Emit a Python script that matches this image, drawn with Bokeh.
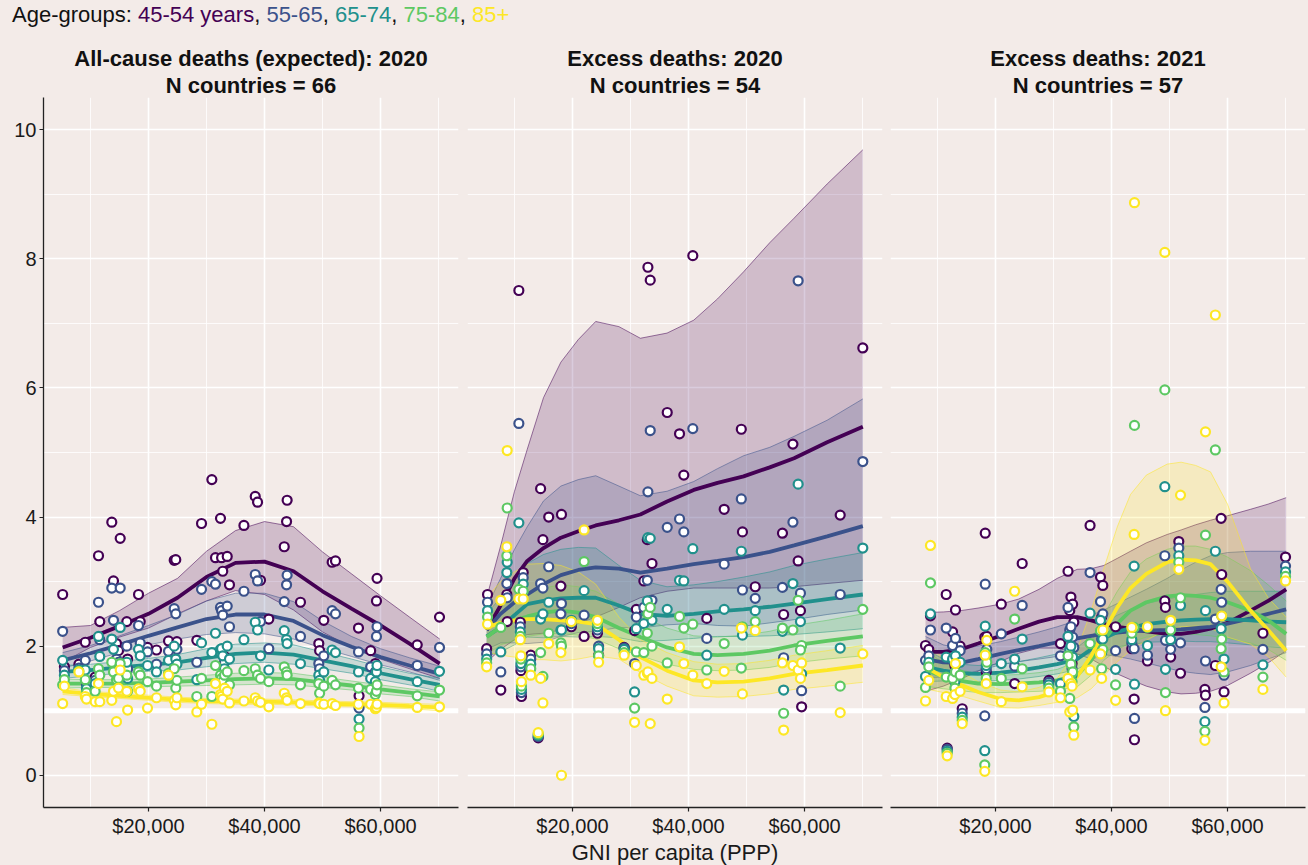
from bokeh.plotting import figure
from bokeh.models import Range1d, FixedTicker, NumeralTickFormatter, Span, Title, Div
from bokeh.layouts import row, column
from bokeh.embed import file_html
from bokeh.resources import INLINE

BG = "#F3EBE8"
FONT = "Liberation Sans"
COLORS = ["#440154", "#3B528B", "#21908C", "#5DC863", "#FDE725"]
AGE_LABELS = ["45-54 years", "55-65", "65-74", "75-84", "85+"]
X_TICKS = [20000, 40000, 60000]
X_MINOR = [10000, 30000, 50000, 70000]
Y_TICKS = [0, 2, 4, 6, 8, 10]
Y_MINOR = [1, 3, 5, 7, 9]

P_TITLES = ["All-cause deaths (expected): 2020", "Excess deaths: 2020", "Excess deaths: 2021"]
P_SUBS = ["N countries = 66", "N countries = 54", "N countries = 57"]

# ---------------- Panel 1: all-cause deaths (expected) 2020 ----------------
p1_gni = [5200, 5500, 8000, 9100, 9300, 10800, 11380, 11600, 13670, 13960, 14480, 14830, 15120, 16260, 16400,
          18280, 18570, 19830, 21380, 23450, 24430, 24700, 24900, 28330, 29140, 30920, 31550, 32410, 32600, 32800,
          33100, 33570, 33960, 36450, 38400, 38800, 39310, 40740, 43400, 43800, 43900, 46200, 49360, 49500, 50220,
          51660, 52240, 56200, 56300, 58300, 59100, 59300, 59400, 66330, 70170]
p1_a45 = [2.80, 1.68, 1.72, 2.06, 1.46, 1.52, 3.40, 2.38, 3.92, 3.01, 2.04, 1.93, 3.67, 2.38, 1.80, 2.80, 2.38, 1.98,
          1.94, 2.08, 3.33, 3.34, 2.07, 2.09, 3.90, 4.58, 3.37, 3.98, 3.37, 3.16, 1.84, 3.39, 2.95, 3.87, 4.32, 4.23,
          3.02, 2.42, 3.54, 3.93, 4.26, 2.68, 2.04, 1.93, 2.40, 3.30, 3.32, 2.28, 1.23, 1.93, 1.73, 2.70, 3.05, 2.02, 2.45]
p1_a55 = [2.23, 1.62, 1.66, 1.78, 1.40, 1.47, 2.68, 2.10, 2.90, 2.40, 1.80, 1.75, 2.90, 2.00, 1.65, 2.32, 2.05, 1.91,
          1.72, 1.92, 2.58, 2.50, 1.95, 1.75, 2.88, 3.00, 2.96, 2.60, 2.55, 2.48, 1.75, 2.62, 2.30, 2.85, 3.11, 3.01,
          2.38, 1.96, 2.69, 2.95, 3.10, 2.15, 1.73, 1.65, 1.85, 2.55, 2.50, 1.91, 1.04, 1.68, 1.60, 2.15, 2.30, 1.70, 1.98]
p1_a65 = [1.78, 1.55, 1.63, 1.63, 1.34, 1.42, 2.15, 1.84, 2.11, 1.95, 1.62, 1.60, 2.29, 1.75, 1.50, 1.95, 1.85, 1.70,
          1.60, 1.78, 2.00, 1.80, 1.72, 1.48, 2.05, 1.90, 2.20, 1.95, 1.96, 1.85, 1.65, 2.00, 1.80, 2.10, 2.37, 2.25,
          1.85, 1.63, 2.24, 2.10, 2.04, 1.73, 1.55, 1.47, 1.60, 1.94, 1.90, 1.60, 0.87, 1.50, 1.45, 1.60, 1.70, 1.45, 1.61]
p1_a75 = [1.40, 1.48, 1.61, 1.48, 1.28, 1.30, 1.65, 1.55, 1.75, 1.60, 1.48, 1.50, 1.73, 1.55, 1.30, 1.60, 1.55, 1.45,
          1.38, 1.58, 1.65, 1.35, 1.47, 1.22, 1.50, 1.22, 1.70, 1.55, 1.50, 1.45, 1.55, 1.60, 1.40, 1.62, 1.65, 1.55,
          1.50, 1.45, 1.68, 1.60, 1.55, 1.40, 1.42, 1.27, 1.38, 1.47, 1.40, 1.35, 0.73, 1.33, 1.25, 1.30, 1.40, 1.23, 1.32]
p1_a85 = [1.11, 1.38, 1.60, 1.22, 1.18, 1.14, 1.42, 1.14, 1.16, 1.30, 0.83, 1.35, 1.63, 1.30, 1.01, 1.34, 1.30, 1.04,
          1.20, 1.55, 1.16, 1.09, 1.20, 0.98, 1.10, 0.79, 1.42, 1.25, 1.22, 1.18, 1.35, 1.30, 1.12, 1.15, 1.20, 1.15,
          1.13, 1.06, 1.27, 1.20, 1.16, 1.11, 1.12, 1.11, 1.10, 1.11, 1.08, 1.10, 0.60, 1.10, 1.03, 1.05, 1.10, 1.05, 1.06]

p1_sx = [5200, 10000, 15000, 20000, 25000, 30000, 35000, 40000, 45000, 50000, 55000, 60000, 65000, 70200]
p1_f45 = [1.98, 2.13, 2.31, 2.50, 2.75, 3.07, 3.29, 3.31, 3.16, 2.85, 2.58, 2.32, 2.04, 1.73]
p1_h45 = [2.29, 2.32, 2.55, 2.82, 3.05, 3.47, 3.79, 3.93, 3.85, 3.46, 3.12, 2.78, 2.45, 2.11]
p1_l45 = [1.75, 1.98, 2.14, 2.28, 2.50, 2.70, 2.86, 2.80, 2.56, 2.22, 1.98, 1.80, 1.65, 1.50]
p1_f55 = [1.78, 1.89, 2.02, 2.16, 2.29, 2.42, 2.49, 2.49, 2.39, 2.17, 1.99, 1.83, 1.70, 1.57]
p1_h55 = [1.90, 2.01, 2.16, 2.32, 2.49, 2.70, 2.82, 2.82, 2.69, 2.39, 2.15, 1.96, 1.82, 1.69]
p1_l55 = [1.66, 1.77, 1.90, 2.02, 2.11, 2.18, 2.21, 2.19, 2.11, 1.97, 1.84, 1.71, 1.60, 1.47]
p1_f65 = [1.60, 1.63, 1.67, 1.71, 1.75, 1.82, 1.88, 1.90, 1.87, 1.78, 1.69, 1.58, 1.49, 1.40]
p1_h65 = [1.70, 1.72, 1.76, 1.81, 1.87, 1.96, 2.03, 2.05, 2.02, 1.91, 1.80, 1.68, 1.58, 1.50]
p1_l65 = [1.50, 1.54, 1.58, 1.61, 1.63, 1.68, 1.73, 1.75, 1.72, 1.65, 1.58, 1.48, 1.40, 1.30]
p1_f75 = [1.42, 1.42, 1.42, 1.43, 1.45, 1.47, 1.49, 1.50, 1.49, 1.44, 1.39, 1.33, 1.28, 1.22]
p1_h75 = [1.49, 1.48, 1.48, 1.49, 1.52, 1.55, 1.58, 1.59, 1.58, 1.52, 1.46, 1.40, 1.34, 1.29]
p1_l75 = [1.35, 1.36, 1.36, 1.37, 1.38, 1.39, 1.40, 1.41, 1.40, 1.36, 1.32, 1.26, 1.22, 1.15]
p1_f85 = [1.30, 1.26, 1.23, 1.20, 1.17, 1.15, 1.14, 1.14, 1.13, 1.11, 1.10, 1.09, 1.07, 1.05]
p1_h85 = [1.35, 1.30, 1.27, 1.24, 1.21, 1.19, 1.18, 1.18, 1.17, 1.15, 1.14, 1.13, 1.11, 1.10]
p1_l85 = [1.25, 1.22, 1.19, 1.16, 1.13, 1.11, 1.10, 1.10, 1.09, 1.07, 1.06, 1.05, 1.03, 1.00]

# ---------------- Panel 2: excess deaths 2020 ----------------
p2_gni = [5200, 5350, 7640, 8680, 8740, 10750, 11000, 11100, 11200, 11500, 12800, 14090, 14500, 14900, 15900, 18000,
          18100, 19800, 22000, 24300, 24500, 28900, 30700, 31000, 32300, 32900, 33000, 33400, 33700, 36330, 38450,
          39190, 40740, 43150, 46150, 49100, 49300, 51500, 56200, 56400, 58000, 58900, 59500, 59300, 66150, 70050]
p2_a45 = [1.96, 2.80, 1.32, 2.80, 2.38, 7.51, 2.37, 1.62, 1.22, 3.14, 1.86, 0.58, 4.44, 3.65, 4.00, 2.93, 4.04, 2.30,
          2.15, 2.20, 1.86, 1.98, 2.24, 2.57, 3.01, 3.65, 7.87, 7.67, 3.28, 5.62, 5.29, 4.65, 8.05, 2.43, 4.12, 5.36,
          3.77, 2.92, 3.75, 2.49, 5.13, 3.32, 1.06, 2.55, 4.03, 6.62]
p2_a55 = [1.88, 2.68, 1.60, 2.97, 2.75, 5.45, 2.30, 1.68, 1.28, 3.06, 1.80, 0.60, 2.97, 2.90, 3.23, 2.50, 2.66, 2.35,
          2.48, 2.25, 2.00, 1.97, 1.73, 2.45, 2.60, 3.02, 4.39, 5.34, 2.71, 3.84, 3.97, 3.77, 5.37, 2.12, 3.27, 4.28,
          2.87, 2.74, 2.91, 1.82, 3.92, 7.66, 1.31, 2.82, 2.80, 4.86]
p2_a65 = [1.80, 2.55, 1.91, 3.14, 3.30, 3.91, 2.22, 1.73, 1.33, 2.96, 1.72, 0.62, 2.42, 2.50, 2.68, 2.25, 2.25, 2.40,
          2.86, 2.30, 1.96, 1.95, 1.29, 2.27, 2.35, 2.70, 3.68, 3.67, 2.40, 2.57, 3.02, 3.01, 3.51, 1.86, 2.57, 3.47,
          2.17, 2.55, 2.23, 1.32, 2.97, 4.51, 1.57, 2.38, 1.97, 3.52]
p2_a75 = [1.74, 2.45, 2.29, 3.40, 4.14, 2.88, 2.15, 1.80, 1.38, 2.85, 1.65, 0.64, 1.90, 1.53, 2.20, 2.05, 2.00, 2.38,
          3.31, 2.35, 1.85, 1.90, 1.04, 1.91, 1.90, 2.20, 2.50, 2.60, 2.00, 1.74, 2.46, 2.28, 2.34, 1.63, 2.04, 1.66,
          2.30, 2.38, 2.28, 0.96, 2.25, 2.71, 2.01, 1.94, 1.38, 2.57]
p2_a85 = [1.68, 2.34, 2.71, 3.54, 5.03, 2.73, 2.10, 1.85, 1.45, 2.73, 1.55, 0.66, 1.50, 1.12, 2.04, 1.90, 0.00, 2.38,
          3.80, 2.40, 1.75, 1.86, 0.82, 1.70, 1.55, 1.58, 1.60, 0.80, 1.50, 1.18, 1.99, 1.73, 1.55, 1.42, 1.61, 2.28,
          1.26, 2.24, 1.74, 0.70, 1.70, 1.63, 1.74, 1.50, 0.97, 1.88]

p2_sx = [5200, 7600, 10000, 12200, 15000, 18000, 21000, 24000, 28000, 31700, 36300, 40900, 45000, 49500, 54000,
         58200, 63900, 70050]
p2_f45 = [2.25, 2.63, 3.05, 3.32, 3.52, 3.68, 3.78, 3.87, 3.95, 4.04, 4.24, 4.42, 4.53, 4.63, 4.77, 4.91, 5.16, 5.40]
p2_h45 = [2.75, 3.55, 4.40, 5.05, 5.85, 6.40, 6.75, 7.03, 6.95, 6.77, 6.85, 7.05, 7.38, 7.80, 8.25, 8.63, 9.16, 9.69]
p2_l45 = [1.75, 1.95, 2.10, 2.18, 2.20, 2.25, 2.35, 2.45, 2.60, 2.75, 2.85, 2.90, 2.90, 2.90, 2.90, 2.92, 2.97, 3.02]
p2_f55 = [2.25, 2.50, 2.68, 2.80, 2.96, 3.10, 3.18, 3.22, 3.20, 3.14, 3.20, 3.27, 3.32, 3.38, 3.46, 3.56, 3.70, 3.86]
p2_h55 = [2.60, 3.05, 3.50, 3.85, 4.25, 4.48, 4.58, 4.64, 4.48, 4.33, 4.40, 4.55, 4.75, 4.95, 5.08, 5.25, 5.50, 5.83]
p2_l55 = [1.95, 2.05, 2.05, 2.04, 2.06, 2.15, 2.21, 2.23, 2.29, 2.28, 2.33, 2.35, 2.32, 2.31, 2.36, 2.41, 2.49, 2.56]
p2_f65 = [2.15, 2.29, 2.48, 2.65, 2.70, 2.74, 2.75, 2.75, 2.63, 2.50, 2.47, 2.50, 2.54, 2.57, 2.61, 2.66, 2.73, 2.80]
p2_h65 = [2.50, 2.75, 3.05, 3.28, 3.42, 3.50, 3.53, 3.52, 3.25, 3.02, 2.92, 2.95, 3.00, 3.07, 3.15, 3.25, 3.35, 3.45]
p2_l65 = [1.85, 1.91, 2.02, 2.14, 2.13, 2.15, 2.14, 2.15, 2.13, 2.07, 2.09, 2.12, 2.15, 2.15, 2.16, 2.18, 2.22, 2.27]
p2_f75 = [2.14, 2.30, 2.40, 2.46, 2.52, 2.55, 2.52, 2.45, 2.28, 2.14, 1.98, 1.88, 1.86, 1.88, 1.93, 2.01, 2.08, 2.15]
p2_h75 = [2.45, 2.62, 2.75, 2.82, 2.90, 2.95, 2.92, 2.85, 2.65, 2.47, 2.28, 2.16, 2.14, 2.17, 2.23, 2.32, 2.40, 2.50]
p2_l75 = [1.87, 2.02, 2.09, 2.15, 2.19, 2.20, 2.17, 2.11, 1.96, 1.85, 1.72, 1.64, 1.62, 1.63, 1.67, 1.74, 1.80, 1.85]
p2_f85 = [2.29, 2.36, 2.40, 2.42, 2.42, 2.40, 2.38, 2.34, 2.10, 1.83, 1.62, 1.47, 1.44, 1.45, 1.50, 1.57, 1.63, 1.70]
p2_h85 = [2.75, 3.00, 3.15, 3.27, 3.28, 3.25, 3.15, 2.96, 2.45, 2.10, 1.90, 1.76, 1.72, 1.73, 1.78, 1.86, 1.93, 2.01]
p2_l85 = [1.91, 1.86, 1.83, 1.79, 1.79, 1.77, 1.80, 1.85, 1.80, 1.59, 1.38, 1.23, 1.21, 1.22, 1.26, 1.33, 1.38, 1.44]

# ---------------- Panel 3: excess deaths 2021 ----------------
p3_gni = [7930, 8500, 8790, 11500, 11670, 12600, 13000, 13100, 13900, 14260, 18150, 18230, 18500, 18400, 21000, 23300,
          24600, 29200, 31200, 32500, 32800, 33000, 33200, 33300, 33500, 36300, 38100, 38300, 38500, 40700, 43500,
          43900, 43960, 46200, 49190, 49300, 50200, 51600, 51900, 56100, 56200, 57900, 58900, 59000, 59400, 66100, 70000]
p3_a45 = [2.01, 1.95, 2.47, 2.80, 0.42, 2.22, 1.70, 2.56, 2.00, 1.03, 2.14, 3.75, 2.15, 1.60, 2.65, 1.42, 3.28, 1.47,
          2.04, 3.16, 2.55, 2.76, 1.73, 2.65, 2.37, 3.87, 3.07, 2.45, 2.94, 2.30, 1.96, 1.18, 0.55, 1.77, 2.70, 2.60,
          1.83, 3.62, 1.58, 1.33, 1.24, 1.70, 3.98, 3.11, 1.29, 2.20, 3.38]
p3_a55 = [1.78, 1.85, 2.25, 2.28, 0.40, 2.01, 1.55, 2.12, 1.93, 0.96, 0.92, 2.96, 1.95, 1.65, 2.19, 1.69, 2.63, 1.44,
          1.85, 2.60, 2.25, 2.30, 1.65, 2.14, 1.98, 3.14, 2.69, 2.11, 2.50, 1.93, 2.05, 1.96, 0.88, 1.86, 3.40, 2.09,
          1.95, 3.52, 2.05, 1.05, 1.77, 2.42, 2.88, 2.68, 1.55, 1.95, 3.24]
p3_a65 = [1.53, 1.75, 2.50, 1.83, 0.37, 1.80, 1.45, 1.85, 1.75, 0.90, 0.38, 2.31, 1.85, 1.70, 1.73, 1.80, 2.11, 1.40,
          1.42, 2.15, 1.95, 2.00, 1.55, 1.83, 0.91, 2.51, 2.40, 1.90, 2.11, 1.64, 2.10, 3.24, 1.41, 2.01, 4.47, 1.64,
          2.10, 3.40, 2.63, 0.83, 2.55, 3.47, 2.27, 2.47, 1.80, 1.71, 3.15]
p3_a75 = [1.36, 1.68, 2.98, 1.52, 0.34, 1.50, 1.35, 1.60, 1.55, 0.85, 0.16, 1.90, 1.75, 1.50, 1.50, 2.42, 1.65, 1.35,
          1.30, 1.85, 1.19, 1.72, 1.45, 1.60, 0.75, 2.04, 2.24, 1.65, 1.95, 1.40, 2.20, 2.29, 5.42, 2.29, 5.97, 1.28,
          2.25, 3.30, 2.75, 0.68, 3.72, 5.04, 1.96, 2.11, 1.60, 1.52, 3.08]
p3_a85 = [1.15, 1.47, 3.56, 1.22, 0.30, 1.19, 1.25, 1.73, 1.30, 0.80, 0.06, 1.86, 2.09, 1.42, 1.14, 2.85, 1.37, 1.29,
          1.20, 1.50, 0.98, 1.42, 1.38, 1.01, 0.62, 1.63, 1.88, 1.50, 2.25, 1.16, 2.29, 3.73, 8.87, 2.30, 8.10, 1.00,
          2.40, 3.19, 4.34, 0.54, 5.32, 7.13, 1.68, 2.47, 1.12, 1.33, 3.01]

p3_sx = [7930, 11000, 14000, 17000, 20860, 24000, 27500, 30640, 34090, 36500, 38670, 41000, 43270, 46000, 49600,
         52000, 54500, 57060, 60000, 63960, 67000, 70110]
p3_f45 = [1.91, 1.91, 1.95, 2.04, 2.16, 2.27, 2.38, 2.45, 2.45, 2.40, 2.34, 2.30, 2.27, 2.23, 2.19, 2.19, 2.22, 2.27,
          2.36, 2.55, 2.70, 2.88]
p3_h45 = [2.52, 2.53, 2.55, 2.59, 2.65, 2.73, 2.88, 3.05, 3.19, 3.20, 3.25, 3.36, 3.47, 3.60, 3.73, 3.80, 3.88, 3.95,
          4.02, 4.12, 4.20, 4.30]
p3_l45 = [1.30, 1.38, 1.49, 1.61, 1.76, 1.89, 1.97, 1.97, 1.88, 1.80, 1.69, 1.57, 1.48, 1.38, 1.29, 1.26, 1.27, 1.30,
          1.39, 1.58, 1.74, 1.93]
p3_f55 = [1.80, 1.75, 1.74, 1.80, 1.88, 1.94, 2.00, 2.06, 2.12, 2.16, 2.19, 2.21, 2.23, 2.24, 2.25, 2.26, 2.28, 2.30,
          2.35, 2.43, 2.50, 2.57]
p3_h55 = [2.15, 2.02, 1.96, 2.00, 2.07, 2.14, 2.22, 2.30, 2.40, 2.48, 2.56, 2.66, 2.76, 2.88, 3.05, 3.18, 3.30, 3.40,
          3.45, 3.47, 3.47, 3.47]
p3_l55 = [1.51, 1.52, 1.54, 1.62, 1.71, 1.76, 1.80, 1.84, 1.87, 1.88, 1.87, 1.84, 1.80, 1.74, 1.66, 1.61, 1.58, 1.56,
          1.60, 1.70, 1.80, 1.90]
p3_f65 = [1.68, 1.62, 1.58, 1.57, 1.59, 1.62, 1.67, 1.72, 1.80, 1.95, 2.12, 2.22, 2.28, 2.34, 2.38, 2.40, 2.41, 2.42,
          2.42, 2.40, 2.38, 2.37]
p3_h65 = [1.95, 1.80, 1.72, 1.70, 1.72, 1.76, 1.82, 1.88, 1.98, 2.15, 2.35, 2.48, 2.57, 2.66, 2.73, 2.77, 2.80, 2.83,
          2.85, 2.85, 2.85, 2.85]
p3_l65 = [1.45, 1.46, 1.45, 1.45, 1.47, 1.49, 1.53, 1.57, 1.64, 1.77, 1.91, 1.99, 2.02, 2.06, 2.07, 2.08, 2.07, 2.07,
          2.05, 2.02, 1.99, 1.97]
p3_f75 = [1.63, 1.53, 1.46, 1.42, 1.41, 1.42, 1.44, 1.47, 1.55, 1.78, 2.10, 2.35, 2.55, 2.68, 2.77, 2.79, 2.78, 2.75,
          2.68, 2.55, 2.40, 2.19]
p3_h75 = [1.92, 1.75, 1.63, 1.57, 1.55, 1.56, 1.59, 1.64, 1.76, 2.05, 2.48, 2.85, 3.15, 3.35, 3.50, 3.55, 3.55, 3.50,
          3.38, 3.17, 2.95, 2.70]
p3_l75 = [1.38, 1.34, 1.31, 1.28, 1.28, 1.29, 1.30, 1.32, 1.37, 1.55, 1.78, 1.94, 2.06, 2.14, 2.19, 2.19, 2.18, 2.16,
          2.12, 2.05, 1.95, 1.78]
p3_f85 = [1.68, 1.52, 1.40, 1.29, 1.18, 1.16, 1.21, 1.30, 1.53, 1.85, 2.22, 2.60, 2.90, 3.12, 3.30, 3.34, 3.33, 3.27,
          3.00, 2.55, 2.25, 1.93]
p3_h85 = [2.10, 1.80, 1.60, 1.45, 1.32, 1.29, 1.36, 1.50, 1.95, 2.55, 3.20, 3.85, 4.35, 4.65, 4.82, 4.85, 4.80, 4.70,
          4.20, 3.20, 2.75, 2.45]
p3_l85 = [1.34, 1.28, 1.23, 1.15, 1.05, 1.04, 1.08, 1.13, 1.20, 1.34, 1.54, 1.76, 1.93, 2.09, 2.26, 2.30, 2.31, 2.28,
          2.14, 2.03, 1.84, 1.52]

# ---------------- layout constants ----------------
DIV_H = 24
FIG_H = 840
TOP = 70
BOTTOM = 53
X_RANGE = (1897, 73443)
Y_RANGE = (-0.5, 10.5)


def style_axis(ax, label=""):
    ax.axis_line_color = "#222222"
    ax.axis_line_width = 1.3
    ax.major_tick_line_color = "#222222"
    ax.major_tick_line_width = 1.2
    ax.major_tick_out = 4
    ax.major_tick_in = 0
    ax.minor_tick_line_color = None
    ax.major_label_text_font = FONT
    ax.major_label_text_font_size = "20px"
    ax.major_label_text_color = "#1a1a1a"
    ax.major_label_text_line_height = 1.0
    ax.major_label_standoff = 3
    ax.axis_label = label
    ax.axis_label_text_font = FONT
    ax.axis_label_text_font_size = "22px"
    ax.axis_label_text_font_style = "normal"
    ax.axis_label_text_color = "#1a1a1a"
    ax.axis_label_text_line_height = 1.0
    ax.axis_label_standoff = 0


def make_panel(idx, gni, ages, sx, fits, los, his, width, left, right, show_y, xlabel):
    p = figure(width=width, height=FIG_H, x_range=Range1d(*X_RANGE), y_range=Range1d(*Y_RANGE),
               output_backend="svg", toolbar_location=None, title=P_TITLES[idx],
               min_border_left=left, min_border_right=right, min_border_top=TOP, min_border_bottom=BOTTOM,
               background_fill_color=BG, border_fill_color=BG, outline_line_color=None)
    p.title.align = "center"
    p.title.text_font = FONT
    p.title.text_font_size = "22px"
    p.title.text_font_style = "bold"
    p.title.text_color = "#111111"
    p.title.standoff = 0
    p.add_layout(Title(text=P_SUBS[idx], align="center", text_font=FONT, text_font_size="22px",
                       text_font_style="bold", text_color="#111111", standoff=0), "above")

    p.xgrid.ticker = FixedTicker(ticks=X_TICKS, minor_ticks=X_MINOR)
    p.ygrid.ticker = FixedTicker(ticks=Y_TICKS, minor_ticks=Y_MINOR)
    for g in (p.xgrid, p.ygrid):
        g.grid_line_color = "white"
        g.grid_line_width = 1.6
        g.minor_grid_line_color = "white"
        g.minor_grid_line_width = 0.8
    p.add_layout(Span(location=1, dimension="width", line_color="white", line_width=5, level="underlay"))

    xa = p.xaxis[0]
    xa.ticker = FixedTicker(ticks=X_TICKS)
    xa.formatter = NumeralTickFormatter(format="$0,0")
    style_axis(xa, xlabel)

    ya = p.yaxis[0]
    ya.ticker = FixedTicker(ticks=Y_TICKS)
    style_axis(ya)
    if not show_y:
        ya.visible = False

    for k in range(5):
        p.varea(x=sx, y1=los[k], y2=his[k], fill_color=COLORS[k], fill_alpha=0.2)
        p.line(sx, los[k], line_color=COLORS[k], line_width=0.7, line_alpha=0.75)
        p.line(sx, his[k], line_color=COLORS[k], line_width=0.7, line_alpha=0.75)
    for k in range(5):
        p.line(sx, fits[k], line_color=COLORS[k], line_width=3.8)
    for k in range(5):
        p.scatter(gni, ages[k], marker="circle", size=9, line_color=COLORS[k], line_width=2.2,
                  fill_color="white")
    return p


f1 = make_panel(0, p1_gni, [p1_a45, p1_a55, p1_a65, p1_a75, p1_a85], p1_sx,
                [p1_f45, p1_f55, p1_f65, p1_f75, p1_f85], [p1_l45, p1_l55, p1_l65, p1_l75, p1_l85],
                [p1_h45, p1_h55, p1_h65, p1_h75, p1_h85], 462, 43, 4, True, " ")
f2 = make_panel(1, p2_gni, [p2_a45, p2_a55, p2_a65, p2_a75, p2_a85], p2_sx,
                [p2_f45, p2_f55, p2_f65, p2_f75, p2_f85], [p2_l45, p2_l55, p2_l65, p2_l75, p2_l85],
                [p2_h45, p2_h55, p2_h65, p2_h75, p2_h85], 424, 5, 4, False, "GNI per capita (PPP)")
f3 = make_panel(2, p3_gni, [p3_a45, p3_a55, p3_a65, p3_a75, p3_a85], p3_sx,
                [p3_f45, p3_f55, p3_f65, p3_f75, p3_f85], [p3_l45, p3_l55, p3_l65, p3_l75, p3_l85],
                [p3_h45, p3_h55, p3_h65, p3_h75, p3_h85], 422, 4, 3, False, " ")

legend_html = "Age-groups: " + ", ".join(
    '<span style="color:%s">%s</span>' % (c, t) for c, t in zip(COLORS, AGE_LABELS))
div = Div(text=legend_html, width=720, height=DIV_H, margin=(3, 0, 0, 12),
          styles={"font-family": FONT, "font-size": "22px", "color": "#111111",
                  "line-height": "24px", "white-space": "nowrap"})

layout = column(div, row(f1, f2, f3))

html = file_html(layout, INLINE, title="Excess deaths by age group and GNI")
html = html.replace("</head>",
                    "<style>html,body{background-color:%s;overflow:hidden;}</style></head>" % BG, 1)
open("out.html", "w").write(html)
